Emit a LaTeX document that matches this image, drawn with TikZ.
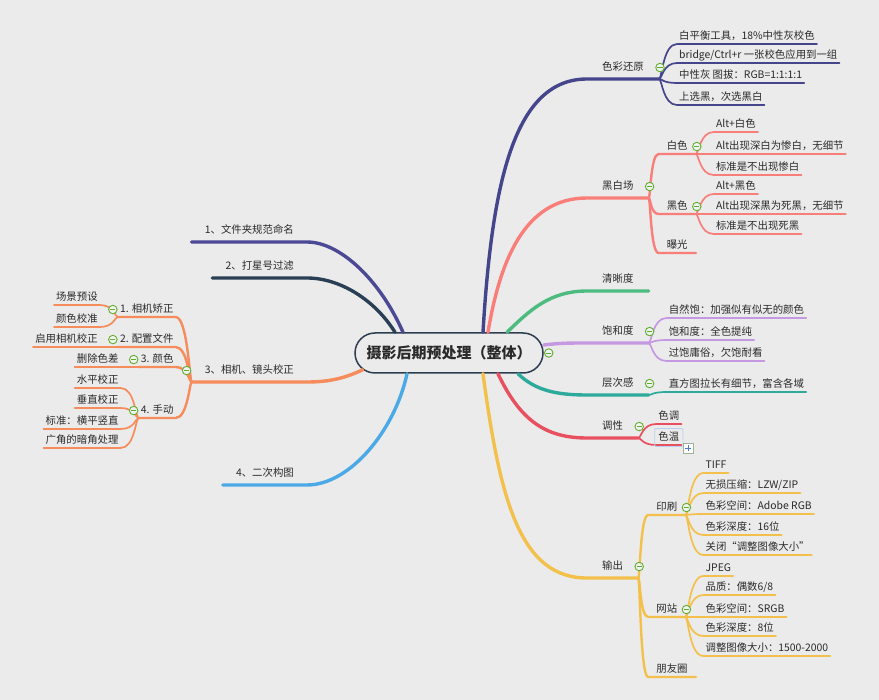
\documentclass[tikz,border=0pt]{standalone}
\usepackage{fontspec}
\setmainfont{Noto Sans CJK SC}
\usetikzlibrary{positioning,shapes.misc,fit}

\definecolor{bg}{HTML}{EBEBEB}
\definecolor{txt}{HTML}{2A2A2A}
\definecolor{rootline}{HTML}{2C3E50}
\definecolor{cnavy}{HTML}{45458C}
\definecolor{csalmon}{HTML}{F97E7A}
\definecolor{cgreen}{HTML}{4CBB7F}
\definecolor{clavender}{HTML}{C598E2}
\definecolor{cteal}{HTML}{2DAA9B}
\definecolor{cred}{HTML}{E9505F}
\definecolor{cyellow}{HTML}{F3C14B}
\definecolor{cpurple}{HTML}{4B4894}
\definecolor{cslate}{HTML}{2A3F55}
\definecolor{corange}{HTML}{F68B5C}
\definecolor{cblue}{HTML}{4AA9E6}
\definecolor{foldgreen}{HTML}{5FAE2E}
\definecolor{foldfill}{HTML}{F2F2F2}
\definecolor{plusframe}{HTML}{9AB59A}
\definecolor{plusblue}{HTML}{4A78E0}
\definecolor{selblue}{HTML}{B9D1F2}

\begin{document}
\begin{tikzpicture}[x=1pt, y=-1pt, font=\fontsize{10.4}{12.5}\selectfont, text=txt,
    rootbox/.style={rounded rectangle, draw=rootline, line width=1.5pt, fill=bg,
        minimum width=192pt, minimum height=40pt, inner sep=2pt,
        font=\fontsize{15}{18}\selectfont\bfseries},
    lvl1/.style={inner xsep=15pt, inner ysep=6pt, text height=8.5pt, text depth=2pt},
    mid/.style={inner xsep=8pt, inner ysep=2pt, text height=8.5pt, text depth=2pt},
    leaf/.style={inner xsep=2pt, inner ysep=2pt, text height=8.5pt, text depth=2pt},
    trunk/.style={line width=3.4pt, line cap=round},
    twig/.style={line width=2.4pt, line cap=round},
    stalk/.style={line width=1.7pt, line cap=round},
    collapse/.style={circle, draw=foldgreen, fill=foldfill, line width=0.9pt,
        minimum size=8.5pt, inner sep=0pt,
        path picture={\draw[foldgreen, line width=0.9pt]
            ([xshift=-2.6pt]path picture bounding box.center) --
            ([xshift=2.6pt]path picture bounding box.center);}},
    expand/.style={draw=plusframe, fill=white, line width=0.6pt,
        minimum size=10pt, inner sep=0pt,
        path picture={\draw[plusblue, line width=1.4pt]
            ([xshift=-3pt]path picture bounding box.center) --
            ([xshift=3pt]path picture bounding box.center)
            ([yshift=-3pt]path picture bounding box.center) --
            ([yshift=3pt]path picture bounding box.center);}},
    selbox/.style={draw=selblue, line width=0.8pt, rounded corners=1pt, inner sep=1.5pt}
]
    \fill[bg] (0,0) rectangle (879,700);
    \useasboundingbox (0,0) rectangle (879,700);

    \node[rootbox] (root) at (449,353) {摄影后期预处理（整体）};

    % 色彩还原
    \node[lvl1, anchor=south west] (r1) at (587,79) {色彩还原};
    \draw[trunk, cnavy] ([xshift=34pt]root.north) .. controls (492,180) and (515,79) .. (r1.south west) -- (r1.south east);
    \foreach \i/\y/\t in {1/44/{白平衡工具，18\%中性灰校色}, 2/63/{bridge/Ctrl+r 一张校色应用到一组},
                          3/83/{中性灰 图拔：RGB=1:1:1:1}, 4/105/{上选黑，次选黑白}} {
        \node[leaf, anchor=south west, xshift=18pt] (r1\i) at (r1.south east |- 0,\y) {\t};
        \draw[stalk, cnavy] (r1.south east) .. controls +(3,0) and +(-14,0) .. (r1\i.south west) -- (r1\i.south east);
    }

    % 黑白场
    \node[lvl1, anchor=south west] (r2) at (587,198) {黑白场};
    \draw[trunk, csalmon] ([xshift=39pt]root.north) .. controls (500,260) and (525,198) .. (r2.south west) -- (r2.south east);
    \foreach \m/\y/\t in {a/154/白色, b/214/黑色, c/253/曝光} {
        \node[mid, anchor=south west, xshift=10pt] (r2\m) at (r2.south east |- 0,\y) {\t};
        \draw[twig, csalmon] (r2.south east) .. controls +(2,0) and +(-8,0) .. (r2\m.south west) -- (r2\m.south east);
    }
    \foreach \i/\y/\t in {1/132/{Alt+白色}, 2/154/{Alt出现深白为惨白，无细节}, 3/175/{标准是不出现惨白}} {
        \node[leaf, anchor=south west, xshift=18pt] (r2a\i) at (r2a.south east |- 0,\y) {\t};
        \draw[stalk, csalmon] (r2a.south east) .. controls +(3,0) and +(-14,0) .. (r2a\i.south west) -- (r2a\i.south east);
    }
    \foreach \i/\y/\t in {1/194/{Alt+黑色}, 2/214/{Alt出现深黑为死黑，无细节}, 3/234/{标准是不出现死黑}} {
        \node[leaf, anchor=south west, xshift=18pt] (r2b\i) at (r2b.south east |- 0,\y) {\t};
        \draw[stalk, csalmon] (r2b.south east) .. controls +(3,0) and +(-14,0) .. (r2b\i.south west) -- (r2b\i.south east);
    }

    % 清晰度
    \node[lvl1, anchor=south west] (r3) at (587,291) {清晰度};
    \draw[trunk, cgreen] ([xshift=58pt]root.north) .. controls (530,310) and (550,291) .. (r3.south west) -- (r3.south east);

    % 饱和度
    \node[lvl1, anchor=south west] (r4) at (587,343) {饱和度};
    \draw[trunk, clavender] ([yshift=8pt]root.east) .. controls (560,343) and (570,343) .. (r4.south west) -- (r4.south east);
    \foreach \i/\y/\t in {1/318/{自然饱：加强似有似无的颜色}, 2/340/{饱和度：全色提纯}, 3/361/{过饱庸俗，欠饱耐看}} {
        \node[leaf, anchor=south west, xshift=18pt] (r4\i) at (r4.south east |- 0,\y) {\t};
        \draw[stalk, clavender] (r4.south east) .. controls +(3,0) and +(-14,0) .. (r4\i.south west) -- (r4\i.south east);
    }

    % 层次感
    \node[lvl1, anchor=south west] (r5) at (587,395) {层次感};
    \draw[trunk, cteal] ([xshift=69pt]root.south) .. controls (535,390) and (555,395) .. (r5.south west) -- (r5.south east);
    \node[leaf, anchor=south west, xshift=18pt] (r51) at (r5.south east |- 0,392) {直方图拉长有细节，富含各域};
    \draw[stalk, cteal] (r5.south east) .. controls +(3,0) and +(-14,0) .. (r51.south west) -- (r51.south east);

    % 调性
    \node[lvl1, anchor=south west] (r6) at (587,438) {调性};
    \draw[trunk, cred] ([xshift=49pt]root.south) .. controls (520,420) and (545,438) .. (r6.south west) -- (r6.south east);
    \foreach \i/\y/\t in {1/424/色调, 2/445/色温} {
        \node[leaf, anchor=south west, xshift=18pt] (r6\i) at (r6.south east |- 0,\y) {\t};
        \draw[stalk, cred] (r6.south east) .. controls +(3,0) and +(-14,0) .. (r6\i.south west) -- (r6\i.south east);
    }
    \node[selbox, fit=(r62)] (s62) {};
    \node[expand] (p62) at ([xshift=7pt, yshift=-3.5pt]r62.south east) {};

    % 输出
    \node[lvl1, anchor=south west] (r7) at (587,578) {输出};
    \draw[trunk, cyellow] ([xshift=34pt]root.south) .. controls (500,500) and (520,578) .. (r7.south west) -- (r7.south east);
    \foreach \m/\y/\t in {a/515/印刷, b/617/网站, c/677/朋友圈} {
        \node[mid, anchor=south west, xshift=10pt] (r7\m) at (r7.south east |- 0,\y) {\t};
        \draw[twig, cyellow] (r7.south east) .. controls +(2,0) and +(-8,0) .. (r7\m.south west) -- (r7\m.south east);
    }
    \foreach \i/\y/\t in {1/473/TIFF, 2/493/{无损压缩：LZW/ZIP}, 3/514/{色彩空间：Adobe RGB},
                          4/535/{色彩深度：16位}, 5/555/{关闭“调整图像大小”}} {
        \node[leaf, anchor=south west, xshift=18pt] (r7a\i) at (r7a.south east |- 0,\y) {\t};
        \draw[stalk, cyellow] (r7a.south east) .. controls +(3,0) and +(-14,0) .. (r7a\i.south west) -- (r7a\i.south east);
    }
    \foreach \i/\y/\t in {1/576/JPEG, 2/595/{品质：偶数6/8}, 3/617/{色彩空间：SRGB},
                          4/636/{色彩深度：8位}, 5/656/{调整图像大小：1500-2000}} {
        \node[leaf, anchor=south west, xshift=18pt] (r7b\i) at (r7b.south east |- 0,\y) {\t};
        \draw[stalk, cyellow] (r7b.south east) .. controls +(3,0) and +(-14,0) .. (r7b\i.south west) -- (r7b\i.south east);
    }

    % left side
    \node[lvl1, inner xsep=13pt, anchor=south east] (l1) at (307,242) {1、文件夹规范命名};
    \draw[trunk, cpurple] ([xshift=-46pt]root.north) .. controls (380,280) and (340,242) .. (l1.south east) -- (l1.south west);
    \node[lvl1, inner xsep=13pt, anchor=south east] (l2) at (307,278) {2、打星号过滤};
    \draw[trunk, cslate] ([xshift=-54pt]root.north) .. controls (375,300) and (340,278) .. (l2.south east) -- (l2.south west);
    \node[lvl1, inner xsep=13pt, anchor=south east] (l4) at (307,485) {4、二次构图};
    \draw[trunk, cblue] ([xshift=-42pt]root.south) .. controls (395,430) and (350,485) .. (l4.south east) -- (l4.south west);

    % 相机、镜头校正
    \node[lvl1, inner xsep=13pt, anchor=south east] (l3) at (307,382) {3、相机、镜头校正};
    \draw[trunk, corange] (root.191) .. controls (345,378) and (330,382) .. (l3.south east) -- (l3.south west);
    \foreach \m/\y/\t in {a/317/{1. 相机矫正}, b/347/{2. 配置文件}, c/367/{3. 颜色}, d/418/{4. 手动}} {
        \node[leaf, anchor=south east, xshift=-16pt] (l3\m) at (l3.south west |- 0,\y) {\t};
        \draw[twig, corange] (l3.south west) .. controls +(-2,0) and +(12,0) .. (l3\m.south east) -- (l3\m.south west);
    }
    \foreach \i/\y/\t in {1/305/场景预设, 2/327/颜色校准} {
        \node[leaf, anchor=south east, xshift=-18pt] (l3a\i) at (l3a.south west |- 0,\y) {\t};
        \draw[stalk, corange] (l3a.south west) .. controls +(-3,0) and +(14,0) .. (l3a\i.south east) -- (l3a\i.south west);
    }
    \node[leaf, anchor=south east, xshift=-18pt] (l3b1) at (l3b.south west) {启用相机校正};
    \draw[stalk, corange] (l3b.south west) -- (l3b1.south east) -- (l3b1.south west);
    \node[leaf, anchor=south east, xshift=-18pt] (l3c1) at (l3c.south west) {删除色差};
    \draw[stalk, corange] (l3c.south west) -- (l3c1.south east) -- (l3c1.south west);
    \foreach \i/\y/\t in {1/388/水平校正, 2/408/垂直校正, 3/429/{标准：横平竖直}, 4/448/广角的暗角处理} {
        \node[leaf, anchor=south east, xshift=-18pt] (l3d\i) at (l3d.south west |- 0,\y) {\t};
        \draw[stalk, corange] (l3d.south west) .. controls +(-3,0) and +(14,0) .. (l3d\i.south east) -- (l3d\i.south west);
    }

    % fold markers
    \node[collapse] (k0) at ([xshift=5pt]root.east) {};
    \foreach \n in {r1, r2, r4, r5, r6, r7, r2a, r2b, r7a, r7b} {
        \node[collapse] (k\n) at ([xshift=1pt]\n.east) {};
    }
    \foreach \n in {l3, l3a, l3b, l3c, l3d} {
        \node[collapse] (k\n) at ([xshift=-5pt]\n.west) {};
    }
\end{tikzpicture}
\end{document}
